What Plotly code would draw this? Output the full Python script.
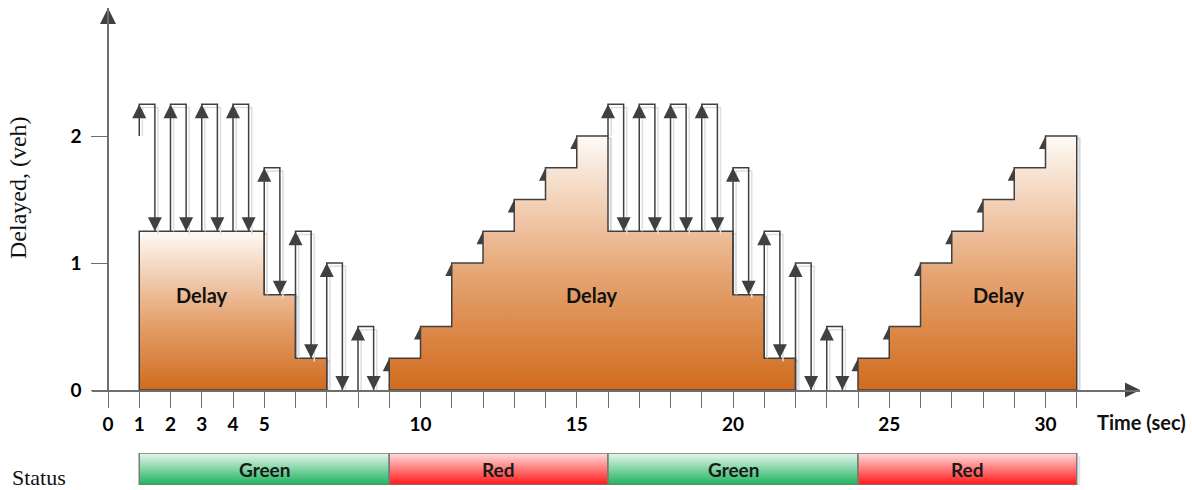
import plotly.graph_objects as go

# ---------------- data ----------------
# delay (queue) step regions: start time and per-second queue level
delay_start = [1, 9, 24]
delay_levels = [
    [1.25, 1.25, 1.25, 1.25, 0.75, 0.25],
    [0.25, 0.5, 1.0, 1.25, 1.5, 1.75, 2.0, 1.25, 1.25, 1.25, 1.25, 0.75, 0.25],
    [0.25, 0.5, 1.0, 1.25, 1.5, 1.75, 2.0],
]
delay_label_t = [3.0, 15.5, 28.5]
delay_label_y = [0.75, 0.75, 0.75]

# departures during green: up arrow at t, across, down arrow at t + 0.5
dep_t = [1, 2, 3, 4, 5, 6, 7, 8, 16, 17, 18, 19, 20, 21, 22, 23]
dep_from = [2.0, 1.25, 1.25, 1.25, 0.75, 0.25, 0, 0, 2.0, 1.25, 1.25, 1.25, 0.75, 0.25, 0, 0]
dep_peak = [2.25, 2.25, 2.25, 2.25, 1.75, 1.25, 1.0, 0.5, 2.25, 2.25, 2.25, 2.25, 1.75, 1.25, 1.0, 0.5]
dep_to = [1.25, 1.25, 1.25, 1.25, 0.75, 0.25, 0, 0, 1.25, 1.25, 1.25, 1.25, 0.75, 0.25, 0, 0]
dep_width = 0.5

# arrivals during red: small arrow heads at each step rise
arr_t = [9, 10, 11, 12, 13, 14, 15, 24, 25, 26, 27, 28, 29, 30]
arr_y = [0.25, 0.5, 1.0, 1.25, 1.5, 1.75, 2.0, 0.25, 0.5, 1.0, 1.25, 1.5, 1.75, 2.0]

# signal status
phase_start = [1, 9, 16, 24]
phase_end = [9, 16, 24, 31]
phase_name = ["Green", "Red", "Green", "Red"]

x_tickvals = list(range(0, 32))
x_labelled = [0, 1, 2, 3, 4, 5, 10, 15, 20, 25, 30]
y_tickvals = [0, 1, 2]

# ---------------- layout geometry ----------------
W, H = 1193, 490
X_RANGE = [-0.512, 33.024]
Y_RANGE = [0, 3.008]
X_DOMAIN = [92 / W, 1140 / W]
Y_DOMAIN = [1 - 390 / H, 1 - 8 / H]
Y2_DOMAIN = [1 - 485 / H, 1 - 453 / H]

LINE = "#404040"
AXIS = "#6e6e6e"
ORANGE_SCALE = [[0, "#d16b1d"], [0.45, "#e5a472"], [1, "#fefaf6"]]
GREEN_SCALE = [[0, "#1cb25b"], [1, "#e6f7ed"]]
RED_SCALE = [[0, "#ff1616"], [1, "#ffdede"]]
SANS = "Lato"
SERIF = "Liberation Serif"

fig = go.Figure()

# arrival arrow heads (drawn first so the fills hide their right half)
fig.add_trace(go.Scatter(
    x=arr_t, y=arr_y, mode="markers",
    marker=dict(symbol="arrow-up", size=13, color=LINE),
    hoverinfo="skip", showlegend=False, cliponaxis=False))

# delay areas (with a faint shadow outline)
for t0, lv in zip(delay_start, delay_levels):
    xs, ys = [t0], [0]
    for i, v in enumerate(lv):
        xs += [t0 + i, t0 + i + 1]
        ys += [v, v]
    xs += [t0 + len(lv), t0]
    ys += [0, 0]
    fig.add_trace(go.Scatter(
        x=[v + 0.09 for v in xs], y=[max(v - 0.02, 0) for v in ys], mode="lines",
        line=dict(color="#d6d6d6", width=2),
        hoverinfo="skip", showlegend=False, cliponaxis=False))
    fig.add_trace(go.Scatter(
        x=xs, y=ys, mode="lines", fill="toself",
        fillgradient=dict(type="vertical", colorscale=ORANGE_SCALE),
        line=dict(color=LINE, width=1.5),
        hoverinfo="skip", showlegend=False, cliponaxis=False))

for t, y in zip(delay_label_t, delay_label_y):
    fig.add_annotation(x=t, y=y, xref="x", yref="y", text="<b>Delay</b>",
                       showarrow=False,
                       font=dict(family=SANS, size=20, color="#111111"))

# departure loops: shadow then lines and arrow heads
sx, sy, lx, ly = [], [], [], []
for t, f, p, d in zip(dep_t, dep_from, dep_peak, dep_to):
    lx += [t, t, t + dep_width, t + dep_width, None]
    ly += [f, p, p, d, None]
    sx += [t + 0.1, t + 0.1, t + dep_width + 0.1, t + dep_width + 0.1, None]
    sy += [f, p - 0.025, p - 0.025, d - 0.025, None]
fig.add_trace(go.Scatter(x=sx, y=sy, mode="lines",
                         line=dict(color="#dedede", width=1.5),
                         hoverinfo="skip", showlegend=False, cliponaxis=False))
fig.add_trace(go.Scatter(x=lx, y=ly, mode="lines",
                         line=dict(color=LINE, width=1.5),
                         hoverinfo="skip", showlegend=False, cliponaxis=False))
fig.add_trace(go.Scatter(
    x=dep_t, y=dep_peak, mode="markers",
    marker=dict(symbol="arrow-up", size=14, color=LINE),
    hoverinfo="skip", showlegend=False, cliponaxis=False))
fig.add_trace(go.Scatter(
    x=[t + dep_width for t in dep_t], y=dep_to, mode="markers",
    marker=dict(symbol="arrow-down", size=14, color=LINE),
    hoverinfo="skip", showlegend=False, cliponaxis=False))

# axis arrow heads
fig.add_trace(go.Scatter(
    x=[0], y=[Y_RANGE[1]], mode="markers",
    marker=dict(symbol="arrow-up", size=16, color=LINE),
    hoverinfo="skip", showlegend=False, cliponaxis=False))
fig.add_trace(go.Scatter(
    x=[X_RANGE[1]], y=[0], mode="markers",
    marker=dict(symbol="arrow-right", size=15, color=LINE),
    hoverinfo="skip", showlegend=False, cliponaxis=False))

# status bars
for s, e, name in zip(phase_start, phase_end, phase_name):
    fig.add_trace(go.Scatter(
        x=[s + 0.08, e + 0.08, e + 0.08], y=[-0.08, -0.08, 0.9], mode="lines",
        line=dict(color="#e2e2e2", width=2),
        xaxis="x2", yaxis="y2",
        hoverinfo="skip", showlegend=False, cliponaxis=False))
    fig.add_trace(go.Scatter(
        x=[s, e, e, s, s], y=[0, 0, 1, 1, 0], mode="lines", fill="toself",
        fillgradient=dict(type="vertical",
                          colorscale=GREEN_SCALE if name == "Green" else RED_SCALE),
        line=dict(color="#7a7a7a", width=1.5),
        xaxis="x2", yaxis="y2",
        hoverinfo="skip", showlegend=False, cliponaxis=False))
    fig.add_annotation(x=(s + e) / 2, y=0.5, xref="x2", yref="y2",
                       text=f"<b>{name}</b>", showarrow=False,
                       font=dict(family=SANS, size=19, color="#1a1a1a"))

fig.update_layout(
    width=W, height=H, autosize=False,
    margin=dict(l=0, r=0, t=0, b=0, autoexpand=False),
    paper_bgcolor="white", plot_bgcolor="white",
    showlegend=False,
    xaxis=dict(
        domain=X_DOMAIN, range=X_RANGE, anchor="y", automargin=False,
        showline=True, linecolor=AXIS, linewidth=1.5,
        ticks="outside", ticklen=16, tickwidth=1.2, tickcolor=AXIS,
        tickvals=x_tickvals,
        ticktext=[str(v) if v in x_labelled else "" for v in x_tickvals],
        tickfont=dict(family=SANS, size=19, color="black", weight="bold"),
        showgrid=False, zeroline=False, fixedrange=True,
    ),
    yaxis=dict(
        domain=Y_DOMAIN, range=Y_RANGE, anchor="free", position=108 / W,
        automargin=False, ticklabelstandoff=6,
        showline=True, linecolor=AXIS, linewidth=1.5,
        ticks="outside", ticklen=16, tickwidth=1.2, tickcolor=AXIS,
        tickvals=y_tickvals, ticktext=[str(v) for v in y_tickvals],
        tickfont=dict(family=SANS, size=19, color="black", weight="bold"),
        showgrid=False, zeroline=False, fixedrange=True,
    ),
    xaxis2=dict(domain=X_DOMAIN, range=X_RANGE, matches="x", anchor="y2",
                visible=False, automargin=False),
    yaxis2=dict(domain=Y2_DOMAIN, range=[0, 1], anchor="x2", visible=False,
                automargin=False),
)

fig.add_annotation(x=18 / W, y=1 - 188 / H, xref="paper", yref="paper",
                   text="Delayed, (veh)", textangle=-90, showarrow=False,
                   xanchor="center", yanchor="middle",
                   font=dict(family=SERIF, size=24, color="#111111"))
fig.add_annotation(x=10 / W, y=1 - 477 / H, xref="paper", yref="paper",
                   text="Status", showarrow=False,
                   xanchor="left", yanchor="middle",
                   font=dict(family=SERIF, size=22, color="#111111"))
fig.add_annotation(x=1141 / W, y=1 - 422 / H, xref="paper", yref="paper",
                   text="<b>Time (sec)</b>", showarrow=False,
                   xanchor="center", yanchor="middle",
                   font=dict(family=SANS, size=20, color="#111111"))

fig.write_html("out.html",
               post_script="document.body.style.margin='0px';",
               config={"displayModeBar": False})
